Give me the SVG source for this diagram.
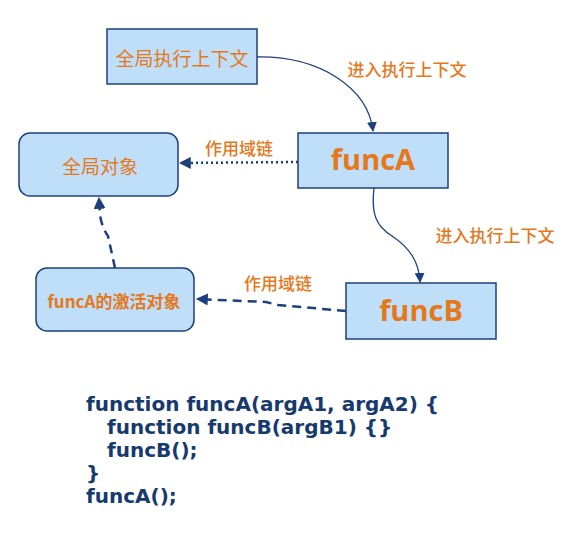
<svg xmlns="http://www.w3.org/2000/svg" width="572" height="548" viewBox="0 0 572 548">
<style>
.box{fill:#bfdef8;stroke:#1f3f7c;stroke-width:1.5}
.nt{fill:#e5781b;font-family:"Noto Sans CJK SC","Noto Sans",sans-serif;text-anchor:middle;dominant-baseline:central}
.big{font-family:"Open Sans","Noto Sans",sans-serif;font-weight:bold;font-size:29px}
.lbl{fill:#e5781b;font-family:"Noto Sans CJK SC",sans-serif;font-size:17px;font-weight:500;text-anchor:middle;dominant-baseline:central}
.code{fill:#173a6e;font-family:"DejaVu Sans",sans-serif;font-weight:bold;font-size:20px}
.ln{fill:none;stroke:#1f3f7c}
</style>
<defs>
<marker id="ah" viewBox="0 0 10 10" refX="9" refY="5" markerWidth="10" markerHeight="10" markerUnits="userSpaceOnUse" orient="auto">
<path d="M0,0 L10,5 L0,10 z" fill="#1f3f7c"/>
</marker>
<marker id="ah2" viewBox="0 0 10 10" refX="9" refY="5" markerWidth="12" markerHeight="12" markerUnits="userSpaceOnUse" orient="auto">
<path d="M0,0 L10,5 L0,10 z" fill="#1f3f7c"/>
</marker>
</defs>
<rect width="572" height="548" fill="#ffffff"/>
<g id="connectors">
<path class="ln" stroke-width="1.3" d="M257,57 C320,56 368,88 373,131" marker-end="url(#ah)"/>
<path class="ln" stroke-width="1.3" d="M374,188 C371,214 376,226 392,236 C410,248 419,262 420,282" marker-end="url(#ah)"/>
<path class="ln" stroke-width="2.5" stroke-dasharray="2,3" d="M298,162 L180,163" marker-end="url(#ah2)"/>
<path class="ln" stroke-width="2.5" stroke-dasharray="9,6" d="M346,311 L278,305 Q270,303 266,302 L197,299" marker-end="url(#ah2)"/>
<path class="ln" stroke-width="2.5" stroke-dasharray="9,6" d="M115,268 L108,236 Q102,228 100,215 L99,198" marker-end="url(#ah2)"/>
<text class="lbl" x="407" y="68">进入执行上下文</text>
<text class="lbl" x="495" y="234">进入执行上下文</text>
<text class="lbl" x="239" y="147">作用域链</text>
<text class="lbl" x="278" y="282">作用域链</text>
</g>
<g id="global-ec">
<rect class="box" x="107" y="29" width="150" height="55"/>
<text class="nt" x="182" y="57" font-size="19">全局执行上下文</text>
</g>
<g id="funcA">
<rect class="box" x="298" y="133" width="150" height="55"/>
<text class="nt big" x="373" y="158">funcA</text>
</g>
<g id="global-obj">
<rect class="box" x="19" y="133" width="159" height="63" rx="11"/>
<text class="nt" x="100" y="165" font-size="19">全局对象</text>
</g>
<g id="funcA-ao">
<rect class="box" x="36" y="268" width="158" height="63" rx="11"/>
<text class="nt" x="114" y="300" font-size="17" font-weight="bold">funcA的激活对象</text>
</g>
<g id="funcB">
<rect class="box" x="346" y="283" width="150" height="56"/>
<text class="nt big" x="421" y="309">funcB</text>
</g>
<g id="code">
<text class="code" x="86" y="411">function funcA(argA1, argA2) {</text>
<text class="code" x="107" y="434">function funcB(argB1) {}</text>
<text class="code" x="107" y="457">funcB();</text>
<text class="code" x="86" y="480">}</text>
<text class="code" x="86" y="503">funcA();</text>
</g>
</svg>
